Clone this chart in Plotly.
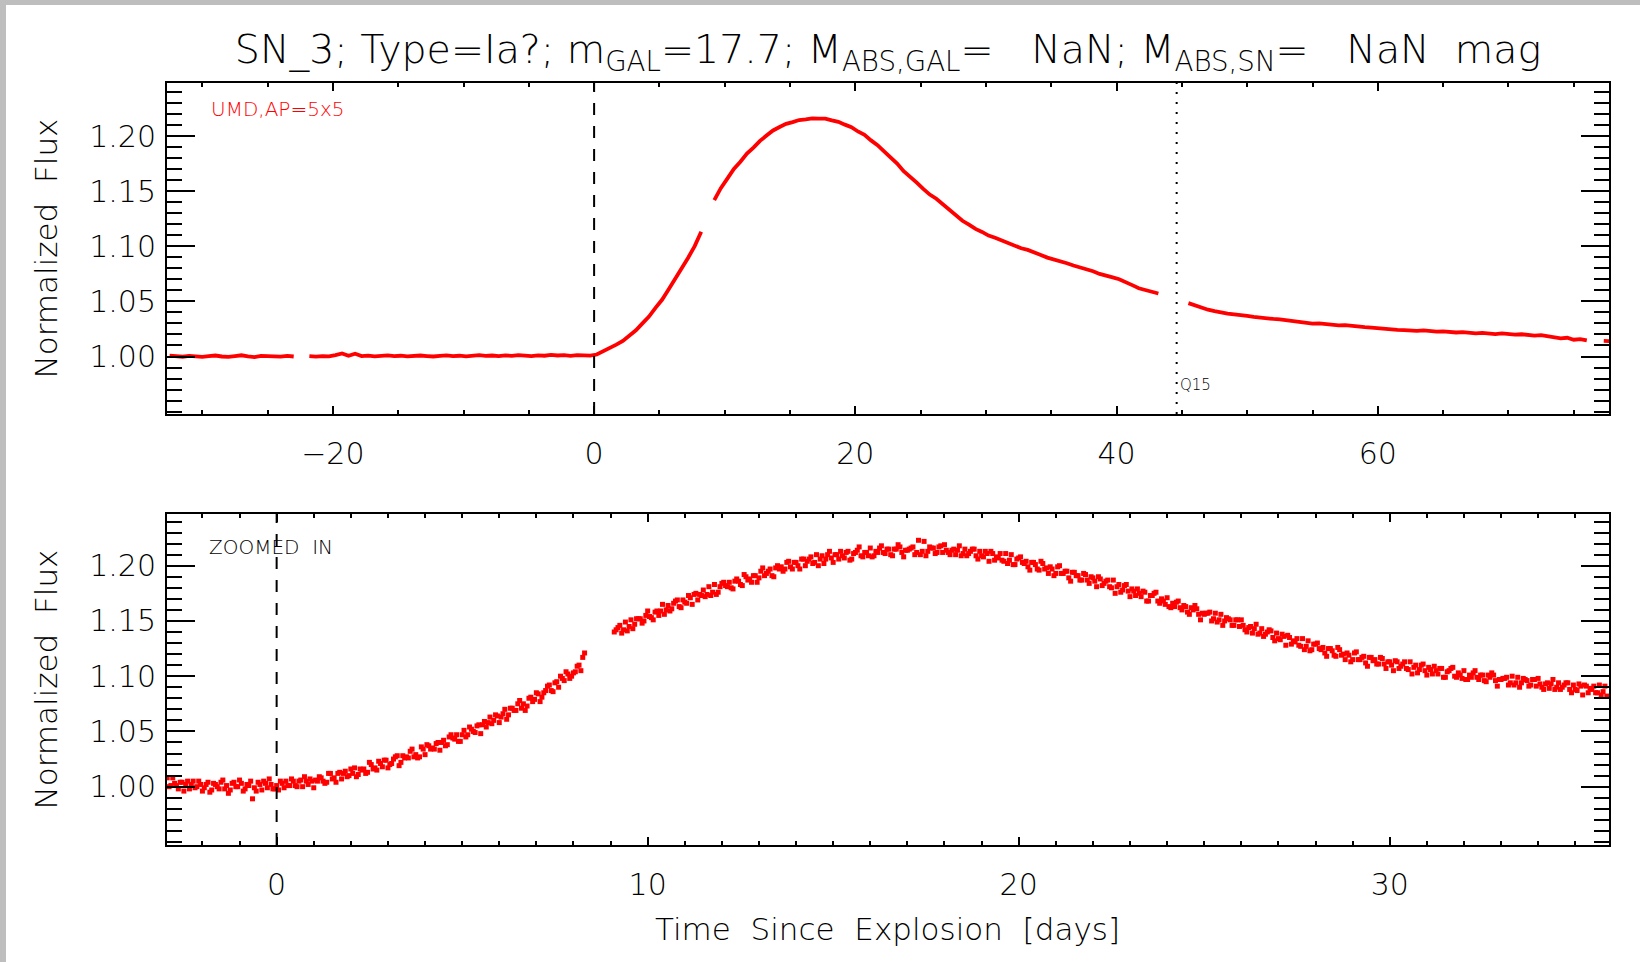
import numpy as np
import plotly.graph_objects as go

# ---------------- data ----------------
# top panel: light curve (line), cadence 0.5 d, segments separated by gaps
TOP_CADENCE = 0.5
top_seg_starts = [-32.5, -21.8, 9.2, 45.5, 77.3]
top_flux_seg1 = [1.0008, 1.0002, 0.9998, 1.0005, 1.0001, 0.9996, 1.0003, 1.0009, 1.0000, 0.9997,
                 1.0004, 1.0011, 1.0002, 0.9995, 1.0006, 1.0001, 1.0003, 0.9999, 1.0005, 1.0000]
top_flux_seg2 = [1.0003, 0.9999, 1.0004, 1.0001, 1.0012, 1.0028, 1.0006, 1.0025, 1.0004, 1.0008,
                 1.0002, 1.0006, 1.0010, 1.0003, 1.0007, 1.0001, 1.0005, 1.0009, 1.0004, 1.0000,
                 1.0006, 1.0011, 1.0003, 1.0007, 1.0002, 1.0008, 1.0012, 1.0005, 1.0009, 1.0003,
                 1.0010, 1.0006, 1.0013, 1.0008, 1.0004, 1.0011, 1.0007, 1.0015, 1.0009, 1.0012,
                 1.0006, 1.0013, 1.0010, 1.0008,
                 1.0018, 1.0048, 1.0070, 1.0108, 1.0142, 1.0193, 1.0238, 1.0301, 1.0362, 1.0441,
                 1.0515, 1.0608, 1.0702, 1.0798, 1.0897, 1.1002, 1.1132]
top_flux_seg3 = [1.1420, 1.1528, 1.1615, 1.1702, 1.1768, 1.1842, 1.1897, 1.1958, 1.2006, 1.2052,
                 1.2083, 1.2112, 1.2128, 1.2147, 1.2153, 1.2162, 1.2159, 1.2160, 1.2144, 1.2131,
                 1.2105, 1.2082, 1.2043, 1.2012, 1.1962, 1.1918, 1.1862, 1.1812, 1.1752, 1.1683,
                 1.1635, 1.1578, 1.1522, 1.1470, 1.1432, 1.1381, 1.1328, 1.1282, 1.1232, 1.1197,
                 1.1158, 1.1131, 1.1098, 1.1078, 1.1052, 1.1029, 1.1008, 1.0983, 1.0968, 1.0941,
                 1.0922, 1.0898, 1.0883, 1.0861, 1.0847, 1.0826, 1.0810, 1.0788, 1.0774, 1.0750,
                 1.0737, 1.0719, 1.0702, 1.0671, 1.0648, 1.0620, 1.0607, 1.0588, 1.0572]
top_flux_seg4 = [1.0485, 1.0462, 1.0448, 1.0425, 1.0412, 1.0398, 1.0390, 1.0382, 1.0371, 1.0368,
                 1.0360, 1.0352, 1.0349, 1.0341, 1.0338, 1.0330, 1.0326, 1.0318, 1.0305, 1.0298,
                 1.0300, 1.0292, 1.0289, 1.0282, 1.0285, 1.0276, 1.0270, 1.0266, 1.0262, 1.0255,
                 1.0251, 1.0248, 1.0242, 1.0240, 1.0236, 1.0233, 1.0238, 1.0229, 1.0226, 1.0228,
                 1.0221, 1.0218, 1.0222, 1.0214, 1.0210, 1.0215, 1.0207, 1.0204, 1.0209, 1.0201,
                 1.0198, 1.0202, 1.0196, 1.0190, 1.0194, 1.0186, 1.0176, 1.0165, 1.0170, 1.0152,
                 1.0158, 1.0146]
top_flux_seg5 = [1.0142, 1.0140]

# bottom panel: zoomed-in photometry points, two interleaved cadence grids of 0.1 d
BOT_CADENCE = 0.1
bot_seg_starts_a = [-2.95, 9.15]
bot_seg_starts_b = [-2.90, 9.10]
bot_flux_seg1a = [
    1.008, 1.001, 1.003, 0.998, 1.004, 1.002, 0.998, 1.005, 1.000, 1.002,
    0.999, 1.004, 0.997, 1.002, 0.998, 1.006, 1.001, 0.997, 1.004, 1.000,
    1.003, 0.998, 1.001, 0.989, 0.996, 1.002, 1.005, 0.999, 1.002, 0.998,
    0.997, 1.003, 1.005, 1.001, 1.005, 1.000, 1.006, 1.009, 1.002, 1.005,
    1.006, 1.009, 1.005, 1.004, 1.012, 1.008, 1.012, 1.007, 1.014, 1.010,
    1.012, 1.009, 1.016, 1.016, 1.013, 1.020, 1.017, 1.023, 1.018, 1.024,
    1.020, 1.025, 1.028, 1.022, 1.026, 1.026, 1.034, 1.029, 1.027, 1.034,
    1.038, 1.034, 1.034, 1.040, 1.040, 1.037, 1.045, 1.044, 1.047, 1.041,
    1.051, 1.047, 1.052, 1.049, 1.056, 1.056, 1.054, 1.063, 1.060, 1.064,
    1.063, 1.070, 1.065, 1.071, 1.069, 1.078, 1.075, 1.073, 1.081, 1.079,
    1.084, 1.081, 1.087, 1.092, 1.086, 1.095, 1.100, 1.096, 1.102, 1.100,
    1.104, 1.110, 1.117]
bot_flux_seg2a = [
    1.142, 1.146, 1.142, 1.141, 1.151, 1.147, 1.152, 1.148, 1.155,
    1.154, 1.151, 1.159, 1.159, 1.156, 1.164, 1.161, 1.168, 1.163, 1.169,
    1.166, 1.171, 1.174, 1.169, 1.173, 1.172, 1.181, 1.176, 1.174, 1.181,
    1.185, 1.181, 1.180, 1.186, 1.186, 1.182, 1.190, 1.188, 1.191, 1.185,
    1.195, 1.191, 1.195, 1.191, 1.198, 1.197, 1.195, 1.203, 1.199, 1.203,
    1.200, 1.206, 1.200, 1.206, 1.202, 1.210, 1.206, 1.202, 1.210, 1.207,
    1.210, 1.206, 1.209, 1.212, 1.205, 1.211, 1.214, 1.209, 1.212, 1.209,
    1.208, 1.213, 1.216, 1.212, 1.215, 1.210, 1.215, 1.219, 1.212, 1.214,
    1.215, 1.217, 1.212, 1.210, 1.222, 1.213, 1.216, 1.211, 1.217, 1.212,
    1.214, 1.210, 1.215, 1.214, 1.209, 1.215, 1.211, 1.215, 1.209, 1.213,
    1.208, 1.211, 1.213, 1.205, 1.207, 1.205, 1.211, 1.205, 1.201, 1.206,
    1.208, 1.202, 1.199, 1.203, 1.201, 1.196, 1.202, 1.198, 1.199, 1.191,
    1.199, 1.193, 1.195, 1.189, 1.194, 1.191, 1.187, 1.193, 1.187, 1.190,
    1.186, 1.190, 1.182, 1.186, 1.181, 1.187, 1.181, 1.176, 1.182, 1.177,
    1.179, 1.173, 1.175, 1.177, 1.168, 1.173, 1.175, 1.168, 1.170, 1.165,
    1.163, 1.166, 1.167, 1.162, 1.164, 1.158, 1.162, 1.164, 1.156, 1.157,
    1.157, 1.158, 1.152, 1.149, 1.156, 1.150, 1.152, 1.146, 1.151, 1.145,
    1.146, 1.140, 1.145, 1.143, 1.138, 1.143, 1.138, 1.142, 1.135, 1.139,
    1.133, 1.136, 1.137, 1.129, 1.131, 1.128, 1.134, 1.127, 1.123, 1.129,
    1.130, 1.124, 1.121, 1.125, 1.123, 1.118, 1.124, 1.120, 1.121, 1.113,
    1.121, 1.115, 1.117, 1.112, 1.117, 1.114, 1.111, 1.117, 1.111, 1.113,
    1.110, 1.114, 1.107, 1.111, 1.107, 1.113, 1.108, 1.103, 1.110, 1.105,
    1.108, 1.102, 1.105, 1.107, 1.099, 1.104, 1.107, 1.100, 1.103, 1.098,
    1.097, 1.101, 1.103, 1.099, 1.101, 1.096, 1.101, 1.103, 1.096, 1.097,
    1.098, 1.099, 1.094, 1.092, 1.099, 1.094, 1.097, 1.091, 1.097, 1.091,
    1.093, 1.088, 1.094, 1.093, 1.088, 1.094, 1.090, 1.094, 1.088, 1.092,
    1.087, 1.091, 1.092, 1.085, 1.088, 1.085, 1.092, 1.086, 1.082]
bot_flux_seg1b = [
    1.000, 1.008, 1.001, 1.004, 0.996, 1.005, 1.002, 0.999, 1.005, 0.996,
    1.002, 0.995, 1.003, 1.000, 1.004, 0.998, 0.994, 1.003, 1.000, 1.006,
    0.996, 1.002, 1.005, 0.999, 1.004, 0.997, 1.003, 1.007, 0.998, 1.001,
    1.005, 0.999, 1.001, 1.007, 1.001, 1.005, 1.000, 1.005, 1.007, 0.999,
    1.005, 1.008, 1.003, 1.012, 1.007, 1.004, 1.013, 1.012, 1.009, 1.016,
    1.017, 1.011, 1.015, 1.012, 1.022, 1.016, 1.015, 1.021, 1.024, 1.017,
    1.021, 1.027, 1.019, 1.028, 1.027, 1.032, 1.027, 1.026, 1.036, 1.029,
    1.037, 1.035, 1.039, 1.033, 1.042, 1.038, 1.047, 1.043, 1.041, 1.047,
    1.045, 1.054, 1.050, 1.055, 1.048, 1.059, 1.058, 1.057, 1.065, 1.058,
    1.066, 1.061, 1.071, 1.069, 1.075, 1.071, 1.069, 1.080, 1.077, 1.085,
    1.077, 1.085, 1.091, 1.087, 1.094, 1.090, 1.098, 1.104, 1.098, 1.103,
    1.109, 1.105, 1.121]
bot_flux_seg2b = [
    1.140, 1.144, 1.139, 1.149, 1.145, 1.143, 1.152, 1.152, 1.150,
    1.159, 1.153, 1.158, 1.155, 1.165, 1.160, 1.159, 1.166, 1.169, 1.162,
    1.167, 1.173, 1.165, 1.175, 1.174, 1.178, 1.174, 1.173, 1.183, 1.176,
    1.184, 1.182, 1.185, 1.179, 1.188, 1.183, 1.192, 1.187, 1.185, 1.191,
    1.189, 1.198, 1.193, 1.197, 1.190, 1.200, 1.199, 1.197, 1.204, 1.197,
    1.203, 1.197, 1.206, 1.204, 1.208, 1.203, 1.200, 1.209, 1.206, 1.213,
    1.203, 1.210, 1.213, 1.207, 1.213, 1.206, 1.212, 1.217, 1.208, 1.212,
    1.216, 1.209, 1.212, 1.218, 1.211, 1.215, 1.209, 1.215, 1.217, 1.208,
    1.214, 1.216, 1.210, 1.223, 1.213, 1.209, 1.217, 1.216, 1.212, 1.218,
    1.219, 1.212, 1.214, 1.210, 1.218, 1.211, 1.209, 1.213, 1.215, 1.206,
    1.209, 1.213, 1.204, 1.211, 1.208, 1.211, 1.204, 1.202, 1.210, 1.201,
    1.207, 1.203, 1.204, 1.196, 1.203, 1.197, 1.204, 1.197, 1.193, 1.197,
    1.193, 1.200, 1.193, 1.195, 1.186, 1.194, 1.191, 1.187, 1.192, 1.184,
    1.189, 1.181, 1.188, 1.184, 1.187, 1.180, 1.175, 1.183, 1.178, 1.183,
    1.172, 1.177, 1.179, 1.172, 1.176, 1.168, 1.173, 1.176, 1.166, 1.168,
    1.171, 1.162, 1.163, 1.168, 1.160, 1.163, 1.156, 1.160, 1.161, 1.151,
    1.156, 1.157, 1.150, 1.157, 1.151, 1.146, 1.153, 1.151, 1.146, 1.151,
    1.151, 1.142, 1.144, 1.139, 1.147, 1.139, 1.136, 1.140, 1.141, 1.132,
    1.134, 1.138, 1.128, 1.135, 1.132, 1.134, 1.127, 1.124, 1.132, 1.124,
    1.129, 1.125, 1.126, 1.118, 1.125, 1.119, 1.126, 1.119, 1.115, 1.119,
    1.115, 1.122, 1.115, 1.118, 1.109, 1.117, 1.115, 1.111, 1.116, 1.107,
    1.113, 1.105, 1.113, 1.109, 1.113, 1.106, 1.102, 1.110, 1.106, 1.111,
    1.101, 1.106, 1.109, 1.102, 1.107, 1.099, 1.105, 1.108, 1.099, 1.101,
    1.105, 1.097, 1.099, 1.105, 1.097, 1.101, 1.095, 1.099, 1.101, 1.091,
    1.097, 1.098, 1.092, 1.100, 1.094, 1.090, 1.098, 1.096, 1.092, 1.097,
    1.098, 1.090, 1.093, 1.089, 1.097, 1.090, 1.088, 1.092, 1.094, 1.085,
    1.088, 1.093, 1.083, 1.091, 1.089, 1.091, 1.085, 1.083, 1.091]

explosion_day = 0.0
q15_day = 44.6
top_xrange = [-32.7, 77.7]
bot_xrange = [-2.955, 35.91]
top_yrange = [0.9478, 1.2483]
bot_yrange = [0.9472, 1.2468]
y_tickvals = [1.00, 1.05, 1.10, 1.15, 1.20]
y_ticktext = ["1.00", "1.05", "1.10", "1.15", "1.20"]

title_text = ("SN_3; Type=Ia?; m<sub>GAL</sub>=17.7; M<sub>ABS,GAL</sub>=\u00a0\u00a0\u00a0NaN; "
              "M<sub>ABS,SN</sub>=\u00a0\u00a0\u00a0NaN\u00a0\u00a0mag")

# ---------------- build series ----------------
def join_segments(starts, segs, cad):
    xs, ys = [], []
    for s, f in zip(starts, segs):
        t = s + cad * np.arange(len(f))
        xs += list(np.round(t, 3)) + [None]
        ys += list(f) + [None]
    return xs, ys

tx, ty = join_segments(top_seg_starts,
                       [top_flux_seg1, top_flux_seg2, top_flux_seg3, top_flux_seg4, top_flux_seg5],
                       TOP_CADENCE)
bxa, bya = join_segments(bot_seg_starts_a, [bot_flux_seg1a, bot_flux_seg2a], BOT_CADENCE)
bxb, byb = join_segments(bot_seg_starts_b, [bot_flux_seg1b, bot_flux_seg2b], BOT_CADENCE)

FONT = "DejaVu Sans"
WT = 200
RED = "#ff0000"

def fnt(size, color="black"):
    return dict(family=FONT, size=size, color=color, weight=WT)

fig = go.Figure()
fig.add_trace(go.Scatter(x=tx, y=ty, mode="lines", line=dict(color=RED, width=3.8),
                         xaxis="x", yaxis="y", showlegend=False, connectgaps=False))
fig.add_trace(go.Scatter(x=bxa + bxb, y=bya + byb, mode="markers",
                         marker=dict(color=RED, size=5, symbol="square", line=dict(width=0)),
                         xaxis="x2", yaxis="y2", showlegend=False))

L, R, T, B = 167, 31, 83, 117
W, H = 1640, 962
PW, PH = W - L - R, H - T - B

def py(pix):  # pixel y -> paper y
    return (H - B - pix) / PH

def px(pix):
    return (pix - L) / PW

def yaxis(rng, dom):
    return dict(domain=dom, range=rng, tickmode="array", tickvals=y_tickvals, ticktext=y_ticktext,
                ticks="inside", ticklen=28, tickwidth=2, tickcolor="black",
                minor=dict(tickmode="linear", tick0=0.95, dtick=0.01, ticks="inside", ticklen=15,
                           tickwidth=2, tickcolor="black", showgrid=False),
                showline=True, linecolor="black", linewidth=2, mirror="ticks",
                showgrid=False, zeroline=False, ticklabelstandoff=3,
                tickfont=fnt(30))

def xaxis(rng, dtick, mdtick, anchor):
    return dict(domain=[0, 1], range=rng, anchor=anchor, tickmode="linear", tick0=0, dtick=dtick,
                ticks="inside", ticklen=8, tickwidth=2, tickcolor="black",
                minor=dict(tickmode="linear", tick0=0, dtick=mdtick, ticks="inside", ticklen=4,
                           tickwidth=2, tickcolor="black", showgrid=False),
                showline=True, linecolor="black", linewidth=2, mirror="ticks",
                showgrid=False, zeroline=False, ticklabelstandoff=12,
                tickfont=fnt(30))

top_dom = [py(414), 1.0]
bot_dom = [0.0, py(514)]

fig.update_layout(
    width=W, height=H, margin=dict(l=L, r=R, t=T, b=B, autoexpand=False),
    paper_bgcolor="white", plot_bgcolor="white",
    font=dict(family=FONT, color="black", weight=WT),
    xaxis=xaxis(top_xrange, 20, 5, "y"),
    yaxis=dict(yaxis(top_yrange, top_dom), anchor="x"),
    xaxis2=xaxis(bot_xrange, 10, 1, "y2"),
    yaxis2=dict(yaxis(bot_yrange, bot_dom), anchor="x2"),
    title=dict(text=title_text, x=0.5, xref="paper", xanchor="center",
               y=1 - 49 / H, yref="container", yanchor="middle",
               font=fnt(39.5)),
)

annotations = [
    dict(text="Normalized\u00a0\u00a0Flux", xref="paper", yref="paper", x=px(45),
         y=(top_dom[0] + top_dom[1]) / 2, textangle=-90, showarrow=False,
         font=fnt(31), xanchor="center", yanchor="middle"),
    dict(text="Normalized\u00a0\u00a0Flux", xref="paper", yref="paper", x=px(45),
         y=(bot_dom[0] + bot_dom[1]) / 2, textangle=-90, showarrow=False,
         font=fnt(31), xanchor="center", yanchor="middle"),
    dict(text="Time\u00a0\u00a0Since\u00a0\u00a0Explosion\u00a0\u00a0[days]", xref="paper", yref="paper",
         x=px(887), y=py(929), showarrow=False, font=fnt(31),
         xanchor="center", yanchor="middle"),
    dict(text="UMD,AP=5x5", xref="paper", yref="paper", x=px(209), y=py(109), showarrow=False,
         font=fnt(20, RED), xanchor="left", yanchor="middle"),
    dict(text="ZOOMED\u00a0\u00a0IN", xref="paper", yref="paper", x=px(207), y=py(547), showarrow=False,
         font=fnt(20), xanchor="left", yanchor="middle"),
    dict(text="Q15", xref="x", yref="paper", x=q15_day, xshift=1, y=py(385), showarrow=False,
         font=fnt(15), xanchor="left", yanchor="middle"),
]
fig.update_layout(annotations=annotations)

shapes = [
    dict(type="line", xref="x", yref="y domain", x0=explosion_day, x1=explosion_day, y0=0, y1=1,
         line=dict(color="black", width=2, dash="12px,11px")),
    dict(type="line", xref="x", yref="y domain", x0=q15_day, x1=q15_day, y0=0, y1=1,
         line=dict(color="black", width=2, dash="2px,8px")),
    dict(type="line", xref="x2", yref="y2 domain", x0=explosion_day, x1=explosion_day, y0=0, y1=1,
         line=dict(color="black", width=2, dash="12px,11px")),
    # grey frame of the original image
    dict(type="rect", xref="paper", yref="paper", x0=px(0), x1=px(6), y0=py(H), y1=py(0),
         fillcolor="#bebebe", line=dict(width=0), layer="below"),
    dict(type="rect", xref="paper", yref="paper", x0=px(0), x1=px(W), y0=py(5), y1=py(0),
         fillcolor="#bebebe", line=dict(width=0), layer="below"),
]
fig.update_layout(shapes=shapes)

fig.write_html("out.html", config={"displayModeBar": False},
               post_script="document.body.style.margin='0px';")
